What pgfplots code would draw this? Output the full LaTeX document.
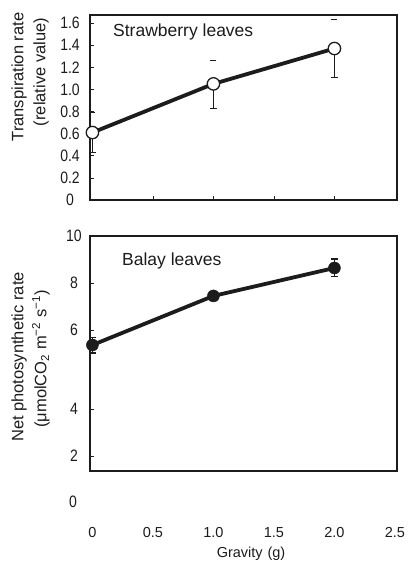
\documentclass[border=0pt]{standalone}
\usepackage{pgfplots}
\pgfplotsset{compat=1.18}
\usepackage{fontspec}
\setmainfont{Liberation Sans}
\newfontfamily\tickfont{Liberation Sans}[FakeStretch=0.85]
\definecolor{ink}{HTML}{1C1C1C}
\makeatletter
% broken (non-linear) y scale of the lower panel: 6->4 stretched
\def\brokentrafo#1{%
  \pgfmathfloatparsenumber{#1}%
  \pgfmathfloattofixed{\pgfmathresult}%
  \dimen0=\pgfmathresult pt\relax
  \ifdim\dimen0<4pt
    \advance\dimen0 by -1.36pt
  \else
    \ifdim\dimen0<6pt
      \advance\dimen0 by -4pt
      \dimen0=1.68\dimen0
      \advance\dimen0 by 2.64pt
    \fi
  \fi
  \edef\pgfmathresult{\strip@pt\dimen0}%
}
\makeatother
\begin{document}
\begin{tikzpicture}
% ---------------- top panel ----------------
\begin{axis}[
  at={(90pt,-200pt)}, anchor=south west,
  width=307pt, height=185pt, scale only axis,
  xmin=-0.02, xmax=2.517, ymin=0, ymax=1.673,
  axis line style={line width=1.2pt, ink},
  xtick={0.5,1,1.5,2}, xticklabels={},
  ytick={0,0.2,0.4,0.6,0.8,1.0,1.2,1.4,1.6},
  yticklabels={0,0.2,0.4,0.6,0.8,1.0,1.2,1.4,1.6},
  tick align=inside, major tick length=4pt,
  xtick pos=bottom, ytick pos=left,
  tick style={ink, line width=0.7pt},
  /pgf/number format/assume math mode=true,
  yticklabel style={font=\tickfont\fontsize{16.5}{16.5}\selectfont, anchor=center, xshift=-20pt, text=ink},
  clip=false,
]
% lower whiskers
\addplot[ink, line width=1.2pt, mark=-, mark size=3.5pt, mark indices={1}] coordinates {(0,0.43) (0,0.61)};
\addplot[ink, line width=1.2pt, mark=-, mark size=3.5pt, mark indices={1}] coordinates {(1,0.83) (1,1.05)};
\addplot[ink, line width=1.2pt, mark=-, mark size=3.5pt, mark indices={1}] coordinates {(2,1.11) (2,1.37)};
% upper caps (whiskers not visible)
\addplot[ink, only marks, mark=-, mark size=3pt, line width=1.2pt] coordinates {(0,0.79) (1,1.26) (2,1.63)};
% means
\addplot[ink, line width=3.8pt, mark=*, mark size=6.2pt,
  mark options={fill=white, draw=ink, line width=1.3pt}]
  coordinates {(0,0.61) (1,1.05) (2,1.37)};
\end{axis}
% ---------------- bottom panel ----------------
\begin{axis}[
  at={(90pt,-471pt)}, anchor=south west,
  width=307pt, height=235pt, scale only axis,
  y coord trafo/.code={\brokentrafo{#1}},
  xmin=-0.02, xmax=2.517, ymin=1.36, ymax=10,
  axis line style={line width=1.2pt, ink},
  xtick={0,0.5,1,1.5,2,2.5}, xticklabels={0,0.5,1.0,1.5,2.0,2.5},
  ytick={2,4,6,8,10}, yticklabels={2,4,6,8,10},
  tick align=inside, major tick length=4pt,
  xtick pos=bottom, ytick pos=left,
  tick style={ink, line width=0.7pt},
  x tick style={draw=none},
  /pgf/number format/assume math mode=true,
  yticklabel style={font=\tickfont\fontsize{16.5}{16.5}\selectfont, anchor=center, xshift=-16pt, text=ink},
  xticklabel style={font=\fontsize{14.5}{14.5}\selectfont, anchor=base, yshift=-66pt, text=ink},
  clip=false,
]
\addplot[ink, line width=1.2pt, mark=-, mark size=3.5pt] coordinates {(0,5.42) (0,5.82)};
\addplot[ink, line width=1.2pt, mark=-, mark size=3.5pt] coordinates {(1,7.3) (1,7.6)};
\addplot[ink, line width=1.2pt, mark=-, mark size=3.5pt] coordinates {(2,8.26) (2,9.02)};
\addplot[ink, line width=3.8pt, mark=*, mark size=6pt,
  mark options={fill=ink, draw=ink, line width=0.5pt}]
  coordinates {(0,5.62) (1,7.45) (2,8.64)};
\end{axis}
% ---------------- texts ----------------
\node[anchor=base west, inner sep=0pt, font=\fontsize{17.5}{17.5}\selectfont, text=ink] at (113pt,-36pt) {Strawberry leaves};
\node[anchor=base west, inner sep=0pt, font=\fontsize{17.5}{17.5}\selectfont, text=ink] at (122pt,-265.5pt) {Balay leaves};
\node[rotate=90, inner sep=0pt, font=\fontsize{16.5}{16.5}\selectfont, text=ink] at (19pt,-77pt) {Transpiration rate};
\node[rotate=90, inner sep=0pt, font=\fontsize{16.5}{16.5}\selectfont, text=ink] at (41pt,-72pt) {(relative value)};
\node[rotate=90, inner sep=0pt, font=\fontsize{16.5}{16.5}\selectfont, text=ink] at (19pt,-357pt) {Net photosynthetic rate};
\node[rotate=90, inner sep=0pt, font=\fontsize{16.5}{16.5}\selectfont, text=ink] at (41pt,-359pt) {(μmolCO\textsubscript{2} m\textsuperscript{−2} s\textsuperscript{−1})};
\node[inner sep=0pt, font=\tickfont\fontsize{16.5}{16.5}\selectfont, text=ink] at (73pt,-502pt) {0};
\node[anchor=base, inner sep=0pt, font=\fontsize{14.5}{14.5}\selectfont, text=ink] at (251pt,-557.5pt) {Gravity\,\,(g)};
\pgfresetboundingbox
\path (0,0) rectangle (411pt,-562pt);
\end{tikzpicture}
\end{document}
